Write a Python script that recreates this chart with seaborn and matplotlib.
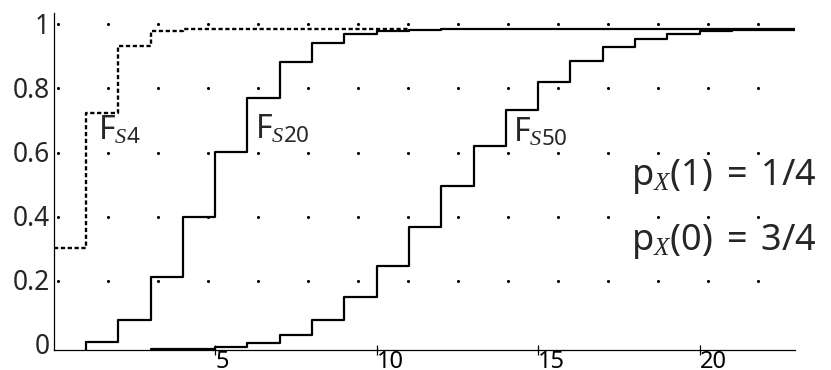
import numpy as np
import pandas as pd
import matplotlib
matplotlib.use('Agg')
import matplotlib.pyplot as plt
import matplotlib.transforms as mtransforms
import seaborn as sns

# step heights of the three distribution functions
s4_k = [0, 1, 2, 3, 4]
s4_cdf = [0.316, 0.738, 0.949, 0.996, 1.0]

s20_k = [1, 2, 3, 4, 5, 6, 7, 8, 9, 10, 11, 12]
s20_cdf = [0.024, 0.091, 0.225, 0.415, 0.617, 0.786, 0.898, 0.959, 0.986, 0.996, 0.999, 1.0]

s50_k = [3, 4, 5, 6, 7, 8, 9, 10, 11, 12, 13, 14, 15, 16, 17, 18, 19, 20, 21, 22]
s50_cdf = [0.0005, 0.0018, 0.007, 0.019, 0.045, 0.092, 0.164, 0.262, 0.382, 0.511,
           0.637, 0.748, 0.837, 0.902, 0.945, 0.971, 0.986, 0.994, 0.997, 0.999]

# axis ticks
ytick_vals = [0, 0.2, 0.4, 0.6, 0.8, 1]
ytick_labels = ['0', '0.2', '0.4', '0.6', '0.8', '1']
xtick_vals = [5, 10, 15, 20]
xtick_labels = ['5', '10', '15', '20']

# background dot grid
dot_cols = [0.13, 1.68, 3.23, 4.78, 6.32, 7.87, 9.42, 10.97, 12.51, 14.06,
            15.61, 17.16, 18.71, 20.25, 21.8]
dot_rows = [0.213, 0.414, 0.615, 0.816, 1.017]

X_MAX = 22.95
Y_MAX = 1.0525

sns.set_style('white')
plt.rcParams['font.family'] = ['Noto Sans', 'DejaVu Sans']
plt.rcParams['mathtext.fontset'] = 'custom'
plt.rcParams['mathtext.rm'] = 'Noto Sans'
plt.rcParams['mathtext.sf'] = 'Noto Sans'
plt.rcParams['mathtext.it'] = 'Liberation Serif:italic'
plt.rcParams['mathtext.bf'] = 'Noto Sans:bold'

fig = plt.figure(figsize=(8.31, 3.70), dpi=100)
ax = fig.add_axes([0.0646, 0.0554, 0.892, 0.9103])


def steps(k, cdf, x_end):
    return pd.DataFrame({'k': list(k) + [x_end], 'cdf': list(cdf) + [cdf[-1]]})


dots = pd.DataFrame([(x, y) for y in dot_rows for x in dot_cols], columns=['x', 'y'])
sns.scatterplot(data=dots, x='x', y='y', color='black', s=5, linewidth=0, ax=ax, zorder=3)

sns.lineplot(data=steps(s4_k, s4_cdf, 11), x='k', y='cdf', drawstyle='steps-post',
             color='black', lw=1.7, linestyle=(0, (1.8, 1.1)), estimator=None, sort=False, ax=ax)
sns.lineplot(data=steps(s20_k, s20_cdf, X_MAX), x='k', y='cdf', drawstyle='steps-post',
             color='black', lw=1.6, estimator=None, sort=False, ax=ax)
sns.lineplot(data=steps(s50_k, s50_cdf, X_MAX), x='k', y='cdf', drawstyle='steps-post',
             color='black', lw=1.6, estimator=None, sort=False, ax=ax)

# the first step of S20 starts on the axis
ax.plot([s20_k[0], s20_k[0]], [0, s20_cdf[0]], color='black', lw=1.6)

ax.set_xlim(0, X_MAX)
ax.set_ylim(0, Y_MAX)
ax.set_xlabel('')
ax.set_ylabel('')
sns.despine(ax=ax)
for sp in ['left', 'bottom']:
    ax.spines[sp].set_linewidth(0.9)
    ax.spines[sp].set_color('black')

ax.set_xticks(xtick_vals)
ax.set_xticklabels(xtick_labels, fontsize=17, ha='left')
ax.tick_params(axis='x', bottom=True, direction='inout', length=7, width=0.9, pad=-3,
               color='black', labelcolor='black')

ax.set_yticks(ytick_vals)
ax.set_yticklabels(ytick_labels, fontsize=19)
ax.tick_params(axis='y', left=False, length=0, pad=3)
shift = mtransforms.ScaledTranslation(0, 0.06, fig.dpi_scale_trans)
for lab in ax.get_yticklabels():
    lab.set_transform(lab.get_transform() + shift)

fs = 23
ax.text(1.37, 0.655, r'$\mathrm{F}_{S\mathrm{4}}$', fontsize=fs, va='baseline')
ax.text(6.23, 0.66, r'$\mathrm{F}_{S\mathrm{20}}$', fontsize=fs, va='baseline')
ax.text(14.22, 0.65, r'$\mathrm{F}_{S\mathrm{50}}$', fontsize=fs, va='baseline')
ax.text(17.88, 0.514, r'$\mathrm{p}_X(1)\ =\ 1/4$', fontsize=26, va='baseline')
ax.text(17.88, 0.311, r'$\mathrm{p}_X(0)\ =\ 3/4$', fontsize=26, va='baseline')

fig.savefig('out.png', dpi=100)
